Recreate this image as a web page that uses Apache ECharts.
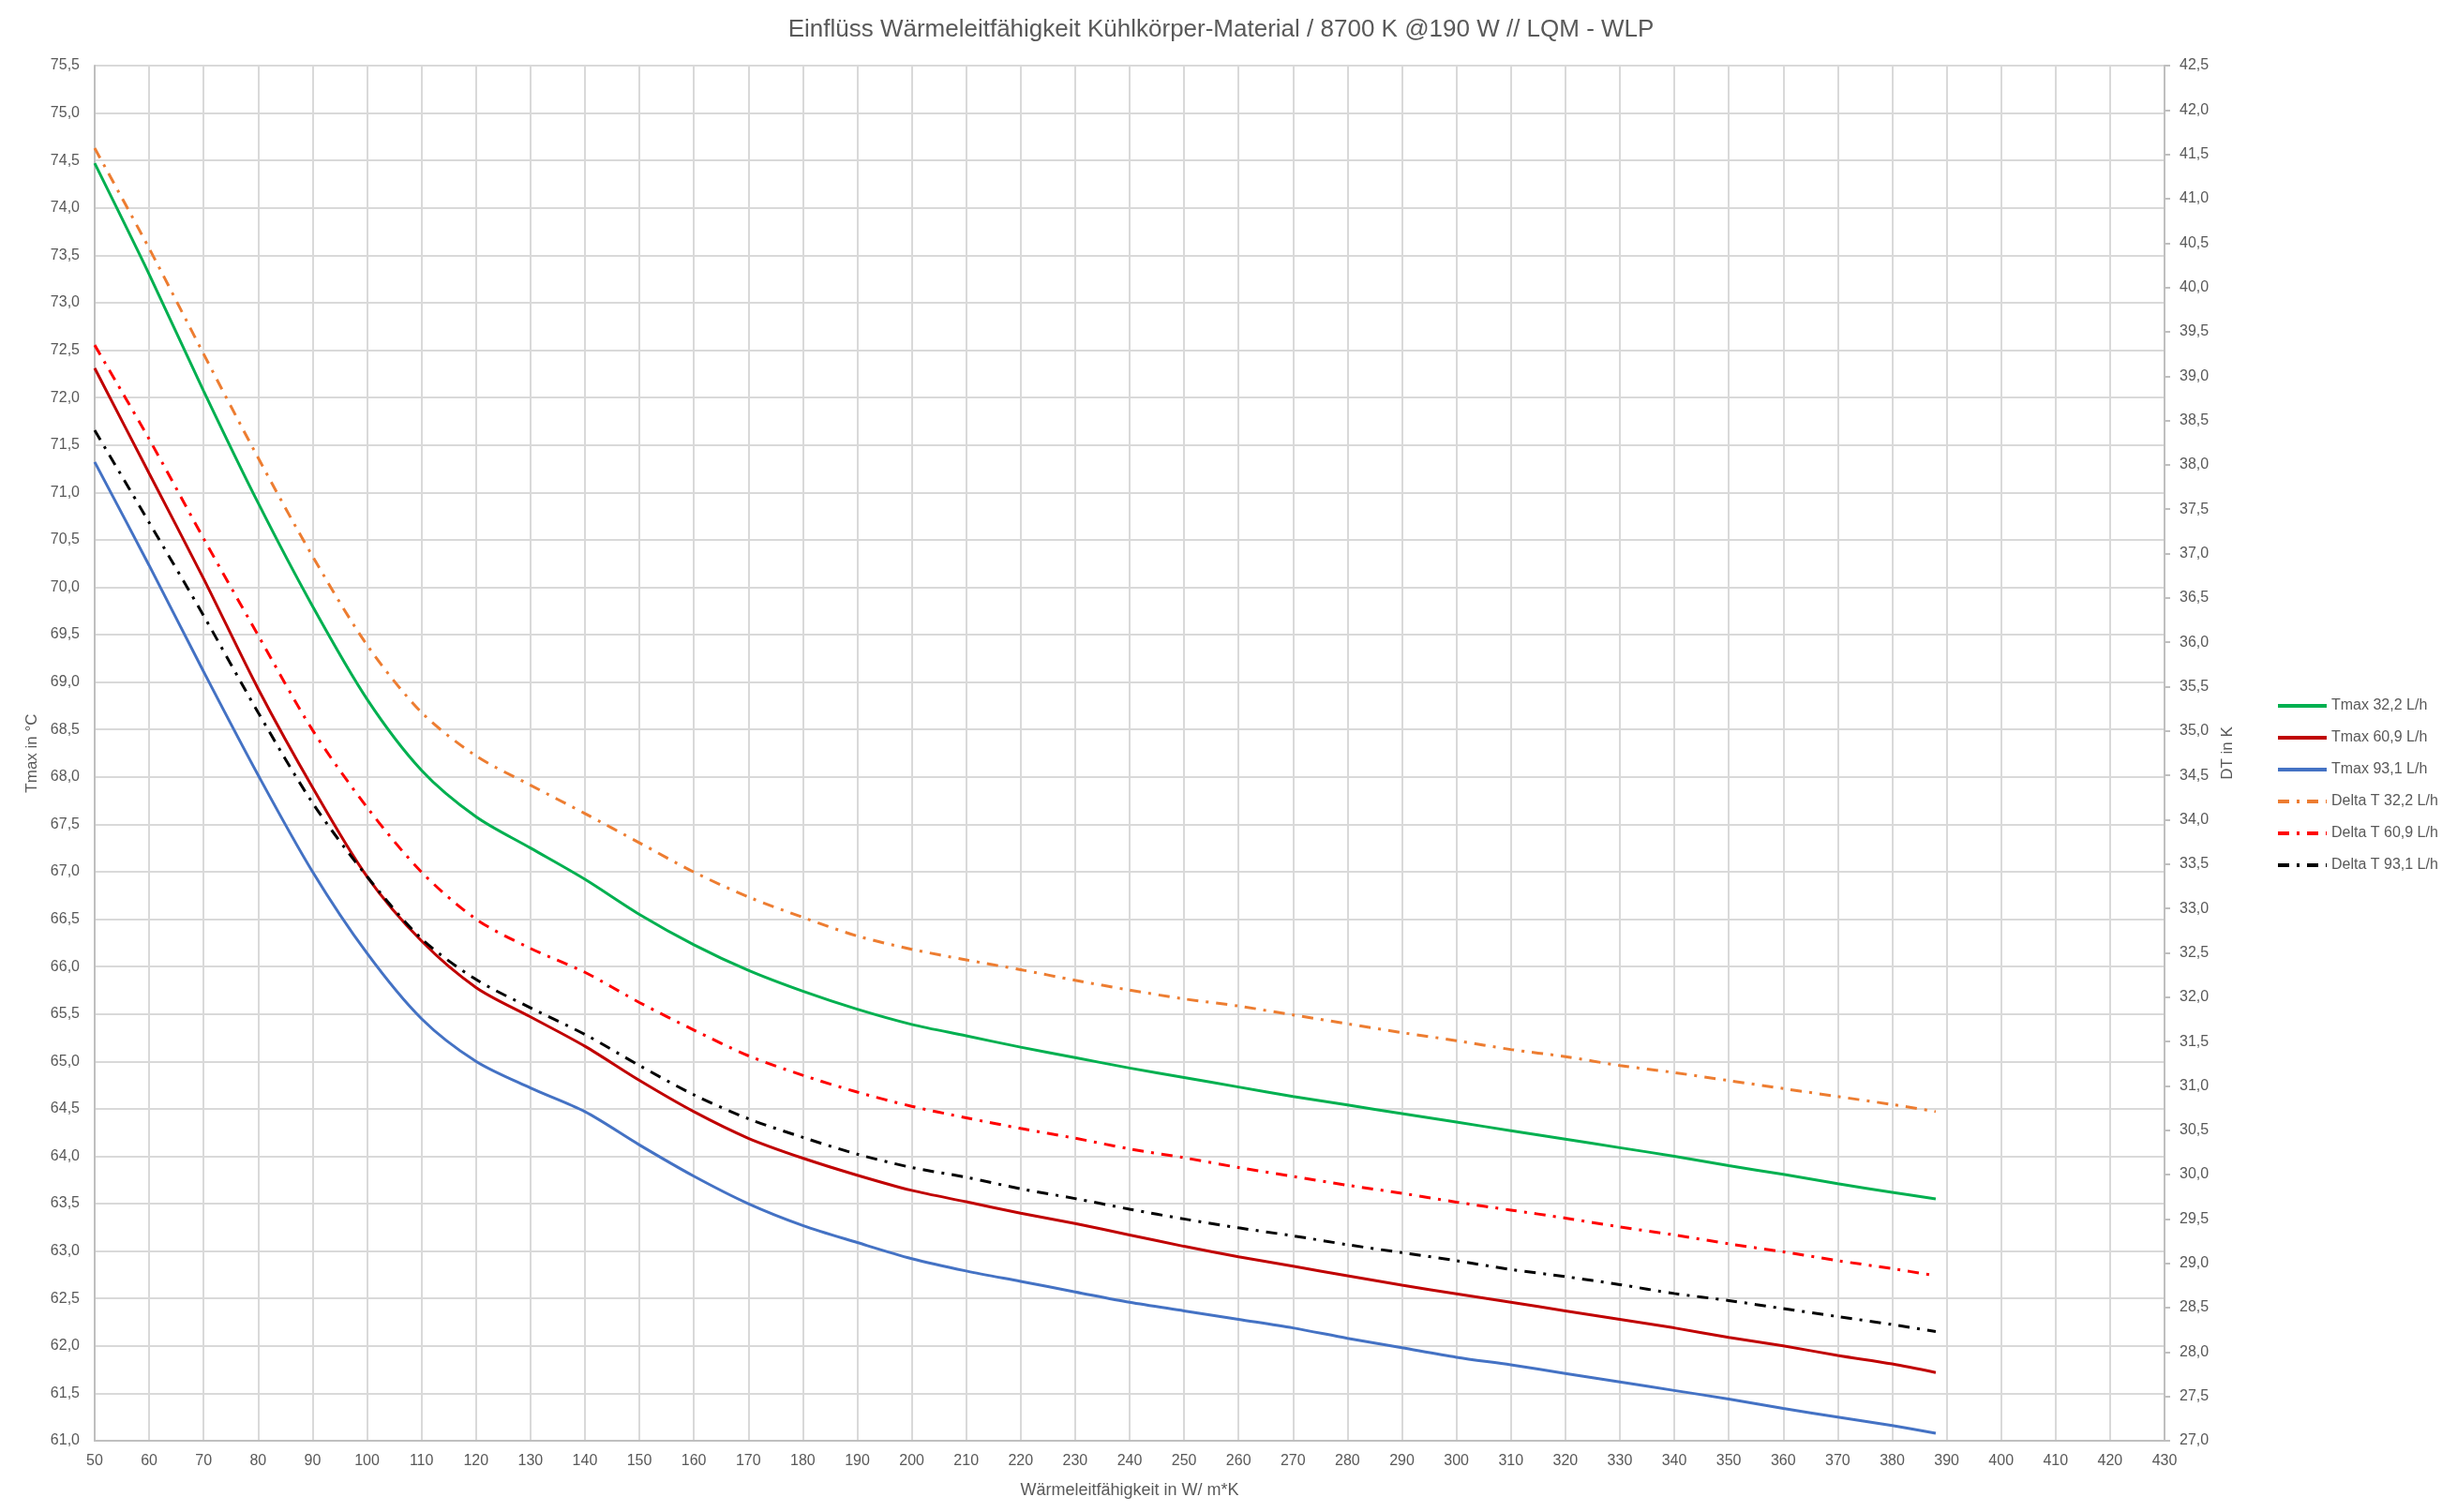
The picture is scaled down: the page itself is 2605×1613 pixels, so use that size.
<!DOCTYPE html>
<html>
<head>
<meta charset="utf-8">
<script src="https://cdn.jsdelivr.net/npm/echarts@6/dist/echarts.min.js"></script>
<style>
html,body{margin:0;padding:0;background:#fff;}
#chart{width:2605px;height:1613px;}
</style>
</head>
<body>
<div id="chart"></div>
<script>
const xValues = [50,60,70,80,90,100,110,120,130,140,150,160,170,180,190,200,210,220,230,240,250,260,270,280,290,300,310,320,330,340,350,360,370,380,388];

const tmax322 = [74.47,73.30,72.07,70.89,69.80,68.82,68.07,67.58,67.25,66.92,66.55,66.23,65.96,65.74,65.55,65.39,65.27,65.15,65.04,64.93,64.83,64.73,64.63,64.54,64.45,64.36,64.27,64.18,64.09,64.00,63.90,63.81,63.71,63.62,63.55];
const tmax609 = [72.31,71.20,70.09,68.93,67.89,66.95,66.27,65.78,65.47,65.16,64.80,64.47,64.19,63.98,63.80,63.64,63.52,63.40,63.29,63.17,63.05,62.94,62.84,62.74,62.64,62.55,62.46,62.37,62.28,62.19,62.09,62.00,61.90,61.81,61.72];
const tmax931 = [71.32,70.23,69.11,68.02,67.00,66.14,65.45,65.00,64.72,64.47,64.12,63.79,63.50,63.27,63.09,62.92,62.79,62.68,62.57,62.46,62.37,62.28,62.19,62.08,61.98,61.88,61.80,61.71,61.62,61.53,61.44,61.34,61.25,61.16,61.08];
const dt322 = [41.57,40.44,39.25,38.08,36.97,35.97,35.21,34.72,34.39,34.07,33.74,33.41,33.13,32.90,32.69,32.54,32.42,32.31,32.19,32.08,31.98,31.90,31.80,31.70,31.60,31.51,31.41,31.33,31.23,31.15,31.06,30.97,30.88,30.79,30.71];
const dt609 = [39.35,38.29,37.17,36.08,35.01,34.14,33.41,32.88,32.55,32.28,31.94,31.63,31.34,31.12,30.93,30.77,30.64,30.52,30.41,30.29,30.19,30.08,29.98,29.88,29.79,29.69,29.60,29.51,29.41,29.32,29.22,29.13,29.03,28.94,28.86];
const dt931 = [38.39,37.35,36.30,35.21,34.19,33.36,32.66,32.20,31.88,31.58,31.23,30.90,30.63,30.42,30.23,30.08,29.97,29.84,29.73,29.61,29.50,29.40,29.31,29.21,29.12,29.03,28.93,28.85,28.76,28.66,28.58,28.49,28.40,28.31,28.23];

const seriesNames = ['Tmax 32,2 L/h','Tmax 60,9 L/h','Tmax 93,1 L/h','Delta T 32,2 L/h','Delta T 60,9 L/h','Delta T 93,1 L/h'];
const titleText = 'Einflüss Wärmeleitfähigkeit Kühlkörper-Material / 8700 K @190 W // LQM - WLP';
const xName = 'Wärmeleitfähigkeit in W/ m*K';
const yLeftName = 'Tmax in °C';
const yRightName = 'DT in K';

const pairs = arr => arr.map((v, i) => [xValues[i], v]);
const fmt1 = v => v.toFixed(1).replace('.', ',');

const FONT = 'Liberation Sans';
const TXT = '#595959';
const dashDot = [12, 8, 3, 8];

function mk(name, data, color, axis, dashed) {
  return {
    name: name,
    type: 'line',
    yAxisIndex: axis,
    data: pairs(data),
    smooth: 0.3,
    symbol: 'none',
    showSymbol: false,
    lineStyle: { color: color, width: 3, type: dashed ? dashDot : 'solid', cap: 'butt' },
    itemStyle: { color: color },
    emphasis: { disabled: true }
  };
}

const chart = echarts.init(document.getElementById('chart'), null, { renderer: 'canvas', devicePixelRatio: 1 });
chart.setOption({
  backgroundColor: '#ffffff',
  animation: false,
  title: {
    text: titleText,
    left: 'center',
    top: 14,
    textStyle: { fontFamily: FONT, fontSize: 26, fontWeight: 'normal', color: TXT }
  },
  legend: {
    orient: 'vertical',
    left: 2423,
    top: 740,
    itemWidth: 52,
    itemHeight: 14,
    itemGap: 18,
    itemStyle: { opacity: 0 },
    lineStyle: { width: 4 },
    textStyle: { fontFamily: FONT, fontSize: 16, color: TXT, lineHeight: 16, padding: [0, 0, 0, 0] },
    data: seriesNames
  },
  grid: { left: 101, right: 296, top: 70, bottom: 76, containLabel: false },
  xAxis: {
    type: 'value',
    min: 50, max: 430, interval: 10,
    name: xName,
    nameLocation: 'middle',
    nameGap: 44,
    nameTextStyle: { fontFamily: FONT, fontSize: 18, color: TXT },
    axisLine: { show: true, lineStyle: { color: '#BFBFBF', width: 2 } },
    axisTick: { show: false },
    axisLabel: { fontFamily: FONT, fontSize: 16, color: TXT, margin: 14 },
    splitLine: { show: true, lineStyle: { color: '#D9D9D9', width: 2 } }
  },
  yAxis: [
    {
      type: 'value',
      position: 'left',
      min: 61, max: 75.5, interval: 0.5,
      name: yLeftName,
      nameLocation: 'middle',
      nameGap: 57,
      nameTextStyle: { fontFamily: FONT, fontSize: 17, color: TXT },
      axisLine: { show: true, lineStyle: { color: '#BFBFBF', width: 2 } },
      axisTick: { show: false },
      axisLabel: { fontFamily: FONT, fontSize: 16, color: TXT, margin: 16, formatter: fmt1 },
      splitLine: { show: true, lineStyle: { color: '#D9D9D9', width: 2 } }
    },
    {
      type: 'value',
      position: 'right',
      min: 27, max: 42.5, interval: 0.5,
      name: yRightName,
      nameLocation: 'middle',
      nameGap: 59,
      nameTextStyle: { fontFamily: FONT, fontSize: 17, color: TXT },
      axisLine: { show: true, lineStyle: { color: '#BFBFBF', width: 2 } },
      axisTick: { show: true, inside: false, length: 6, lineStyle: { color: '#BFBFBF', width: 2 } },
      axisLabel: { fontFamily: FONT, fontSize: 16, color: TXT, margin: 16, formatter: fmt1 },
      splitLine: { show: false }
    }
  ],
  series: [
    mk(seriesNames[0], tmax322, '#00B050', 0, false),
    mk(seriesNames[1], tmax609, '#C00000', 0, false),
    mk(seriesNames[2], tmax931, '#4472C4', 0, false),
    mk(seriesNames[3], dt322, '#ED7D31', 1, true),
    mk(seriesNames[4], dt609, '#FF0000', 1, true),
    mk(seriesNames[5], dt931, '#000000', 1, true)
  ]
});
</script>
</body>
</html>
